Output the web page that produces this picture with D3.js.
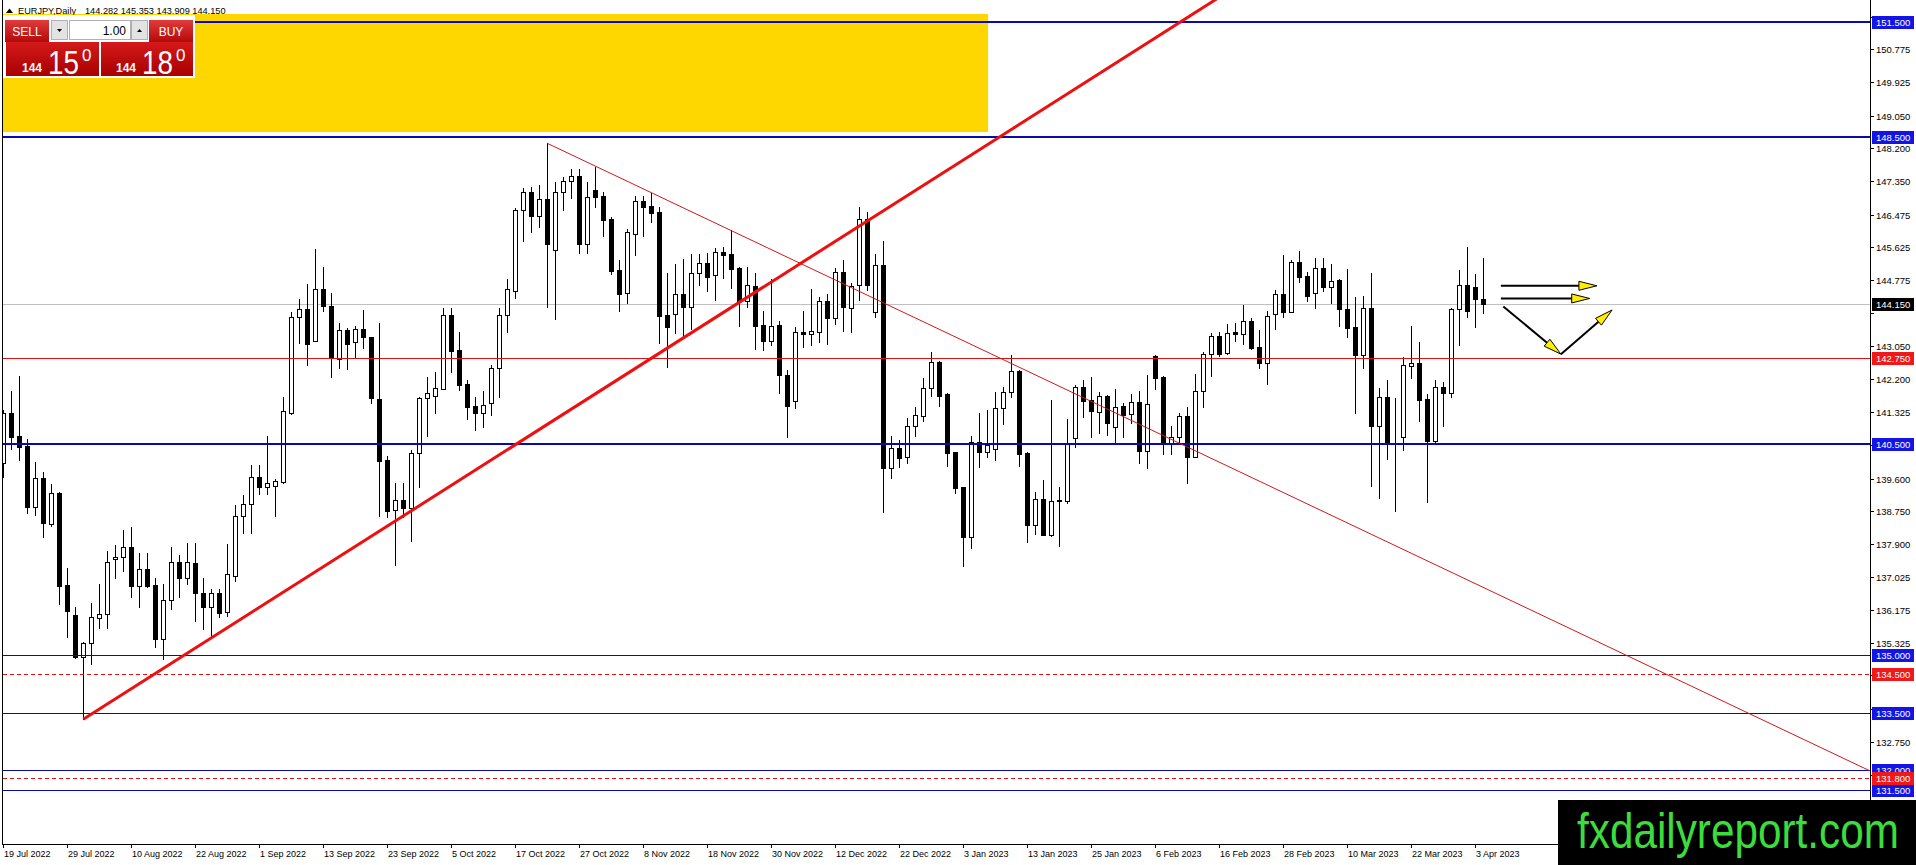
<!DOCTYPE html>
<html><head><meta charset="utf-8">
<script src="https://cdn.jsdelivr.net/npm/d3@7"></script>
<style>html,body{margin:0;padding:0;background:#fff;overflow:hidden}svg{display:block}</style>
</head><body>
<svg id="c" width="1916" height="865"></svg>
<script>
// ---------------- DATA ----------------
const symbol = "EURJPY,Daily";
const lastOHLC = ["144.282", "145.353", "143.909", "144.150"];
const opens = [
140.01,141.30,140.71,140.45,138.87,139.61,138.41,139.22,136.83,136.05,
134.96,135.33,135.98,136.07,137.50,137.55,137.81,136.81,137.24,136.83,
135.41,136.44,137.42,137.00,137.39,136.61,136.26,136.61,136.12,137.07,
138.63,138.93,139.65,139.37,139.41,139.52,141.32,143.80,144.01,143.18,
144.53,144.09,142.71,143.46,143.15,143.49,143.28,141.66,140.08,138.78,
139.04,138.84,140.26,141.69,141.76,141.93,143.86,142.95,142.06,141.49,
141.30,141.56,142.47,143.86,144.48,146.59,147.05,146.44,146.87,145.55,
147.05,147.36,147.49,145.70,147.11,146.96,146.36,145.03,144.42,145.96,
146.84,146.70,146.53,143.86,143.88,144.40,144.08,144.95,145.21,144.90,
145.49,145.44,145.09,144.22,144.61,143.60,143.19,143.60,142.30,141.63,
143.41,143.36,143.42,144.22,143.77,144.97,144.05,144.64,146.36,143.93,
145.16,139.87,140.39,140.17,140.97,141.24,141.95,142.64,141.79,140.28,
139.37,138.09,140.56,140.30,140.36,141.43,141.86,142.40,140.26,138.39,
139.06,138.13,139.02,139.02,140.65,141.98,141.65,141.34,141.75,140.95,
141.49,141.28,141.59,140.33,142.79,142.24,140.50,140.69,141.23,140.17,
141.89,142.84,143.31,142.86,143.41,143.36,143.70,143.03,142.62,143.88,
144.40,143.95,145.23,144.88,144.44,145.08,144.60,144.77,144.01,143.54,
142.82,144.03,140.97,141.72,140.69,140.69,142.54,142.60,141.66,140.58,
141.98,141.84,144.01,144.64,144.58,144.282];
const highs = [
141.39,141.88,142.27,140.62,140.02,139.78,139.45,139.26,137.26,136.26,
135.35,136.35,136.85,137.71,137.87,138.26,138.35,137.65,137.65,137.00,
136.85,137.83,137.61,137.93,137.91,137.00,136.72,136.72,137.90,138.91,
139.17,139.95,139.95,140.71,139.59,141.72,143.95,144.27,144.67,145.58,
145.12,144.42,143.66,143.51,143.57,143.99,143.28,143.66,140.19,139.48,
139.48,140.34,141.73,142.24,142.38,144.03,144.03,143.42,142.17,141.73,
141.89,142.56,144.03,144.79,146.64,147.16,147.20,147.24,148.33,147.33,
147.46,147.65,147.65,147.33,147.72,147.07,146.42,145.29,146.10,146.97,
146.97,147.03,146.68,144.96,145.18,145.31,145.44,145.44,145.48,145.60,
145.64,146.07,145.12,145.12,144.95,143.96,144.80,143.70,142.43,143.55,
143.96,144.53,144.34,144.41,145.08,145.29,144.69,146.66,146.55,145.44,
145.79,140.71,140.60,141.17,141.47,142.21,142.90,142.66,141.82,140.30,
139.39,140.71,141.30,141.39,141.85,141.99,142.82,142.43,140.28,139.26,
139.56,141.65,139.37,141.14,142.04,142.17,142.24,141.85,141.78,141.93,
141.56,141.80,141.89,142.30,142.82,142.27,140.97,141.30,141.47,142.32,
142.90,143.38,143.42,143.62,143.64,144.12,143.77,143.47,143.96,144.51,
145.42,145.29,145.53,144.99,145.34,145.34,145.19,144.79,145.06,144.34,
144.35,144.95,141.95,142.17,141.69,142.77,143.57,143.15,141.79,142.17,
142.11,144.03,145.03,145.64,144.92,145.353];
const lows = [
139.64,140.36,140.08,138.71,138.65,138.07,138.37,136.33,135.48,134.92,
133.33,134.77,135.72,135.72,137.00,137.20,136.52,136.25,136.78,135.21,
134.89,136.20,136.51,136.85,135.89,135.67,135.48,136.00,136.02,136.94,
138.19,138.19,139.19,139.19,138.63,139.48,141.28,143.12,142.56,143.18,
143.96,142.24,142.49,142.45,142.77,142.99,141.56,138.63,138.61,137.35,
138.61,137.98,139.39,140.71,141.32,141.92,142.38,141.91,141.14,140.86,
140.95,141.26,141.72,143.42,144.29,145.79,146.03,146.16,144.06,143.75,
146.59,146.90,145.48,145.48,146.66,145.92,144.93,143.97,144.18,145.42,
145.92,146.27,143.14,142.51,143.40,143.29,143.49,144.64,144.49,144.25,
144.82,144.55,143.57,144.06,142.97,142.95,143.08,141.84,140.69,141.45,
143.03,143.08,143.15,143.10,143.63,143.44,143.42,144.25,144.51,143.82,
138.74,139.61,139.89,140.00,140.72,141.11,141.75,141.49,139.93,139.22,
137.32,137.80,139.91,140.17,140.08,141.02,141.73,139.93,137.96,138.16,
138.13,138.10,137.84,138.96,140.41,141.20,140.69,140.79,140.73,140.50,
140.69,141.05,140.01,139.87,141.92,140.23,140.23,140.52,139.49,140.17,
141.46,142.28,142.79,142.84,143.19,143.10,142.97,142.49,142.06,143.49,
143.82,143.95,144.71,144.23,144.05,144.48,144.18,143.57,143.29,141.32,
142.47,139.41,139.09,140.10,138.76,140.34,142.23,141.11,139.00,140.52,
140.97,141.73,143.08,143.80,143.55,143.909];
const closes = [
141.31,140.69,140.43,138.85,139.61,138.43,139.22,136.81,136.16,134.96,
135.33,135.99,136.07,137.42,137.55,137.81,136.81,137.24,136.80,135.41,
136.44,137.42,137.00,137.42,136.61,136.26,136.61,136.09,137.11,138.63,
138.93,139.65,139.37,139.49,139.54,141.37,143.80,144.01,143.10,144.53,
144.09,142.73,143.46,143.10,143.49,143.28,141.69,140.07,138.76,139.04,
138.84,140.27,141.69,141.82,141.95,143.86,142.93,142.04,141.47,141.32,
141.52,142.47,143.86,144.53,146.59,147.05,146.44,146.87,145.70,147.05,
147.36,147.49,145.70,146.94,146.94,146.33,145.01,144.41,146.01,146.84,
146.68,146.51,143.84,143.55,144.40,144.08,144.95,145.21,144.86,145.49,
145.42,145.05,144.22,144.64,143.58,143.19,143.57,142.30,141.50,143.41,
143.36,143.44,144.22,143.79,144.97,144.08,144.62,146.36,144.64,145.16,
139.87,140.39,140.14,140.97,141.26,141.95,142.64,141.75,140.26,139.36,
138.09,140.56,140.30,140.47,141.43,141.86,142.40,140.23,138.39,139.06,
138.13,139.02,139.04,140.52,141.98,141.63,141.37,141.76,141.05,141.46,
141.26,141.59,140.33,141.53,142.23,140.52,140.69,141.23,140.17,141.89,
142.84,143.32,142.84,143.38,143.36,143.70,143.01,142.62,143.83,144.40,
143.95,145.23,144.86,144.36,145.08,144.60,144.75,144.01,143.53,142.82,
144.03,140.97,141.72,140.56,140.69,142.56,142.60,141.65,140.58,141.98,
141.84,144.01,144.64,143.97,144.28,144.150];

const dateTickLabels = ["19 Jul 2022","29 Jul 2022","10 Aug 2022","22 Aug 2022","1 Sep 2022","13 Sep 2022",
 "23 Sep 2022","5 Oct 2022","17 Oct 2022","27 Oct 2022","8 Nov 2022","18 Nov 2022","30 Nov 2022",
 "12 Dec 2022","22 Dec 2022","3 Jan 2023","13 Jan 2023","25 Jan 2023","6 Feb 2023","16 Feb 2023",
 "28 Feb 2023","10 Mar 2023","22 Mar 2023","3 Apr 2023"];
const barsPerDateLabel = 8;
const priceTicks = [151.625,150.775,149.925,149.050,148.200,147.350,146.475,145.625,144.775,143.900,
 143.050,142.200,141.325,140.475,139.600,138.750,137.900,137.025,136.175,135.325,134.475,133.600,
 132.750,131.875];
const levelsBlueThick = [151.5, 148.5, 140.5];
const levelsBlueThin = [135.0, 133.5, 132.0, 131.5];
const levelsRedSolid = [142.75];
const levelsRedDashed = [134.5, 131.8];
const bidPrice = 144.150;
// trendlines: [barIndex, price]
const trendUp = [[10, 133.33], [150, 151.87]];
const trendDown = [[68, 148.33], [120, 143.19]];
// yellow zone: bars and prices
const zoneBars = [-10, 123.1];
const zonePrices = [148.625, 151.70];
// arrows: [[bar, price], [bar, price]]
const arrows = [
  [[187.2, 144.62], [199.2, 144.62]],
  [[187.2, 144.29], [198.3, 144.29]],
  [[187.5, 144.08], [194.7, 142.84]],
  [[194.7, 142.84], [201.1, 143.99]]
];
const panel = {sell: "SELL", buy: "BUY", lot: "1.00", bidBig: "144", bidMain: "15", bidSup: "0", askBig: "144", askMain: "18", askSup: "0"};
const logoText = "fxdailyreport.com";

// ---------------- CHART ----------------
const W = 1916, H = 865;
const plotL = 3, plotR = 1870, plotB = 844;
const svg = d3.select('#c');
const x = d3.scaleLinear().domain([0, 185]).range([3.3, 1483.3]);
const y = d3.scaleLinear().domain([140.5, 151.5]).range([444, 21.6]);

const defs = svg.append('defs');
defs.append('clipPath').attr('id', 'plotclip').append('rect')
  .attr('x', plotL).attr('y', 0).attr('width', plotR - plotL).attr('height', plotB);
const gradRed = defs.append('linearGradient').attr('id', 'gred').attr('x1', 0).attr('y1', 0).attr('x2', 0).attr('y2', 1);
gradRed.append('stop').attr('offset', '0%').attr('stop-color', '#e23b3b');
gradRed.append('stop').attr('offset', '100%').attr('stop-color', '#b30a0a');
const gradRed2 = defs.append('linearGradient').attr('id', 'gred2').attr('x1', 0).attr('y1', 0).attr('x2', 0).attr('y2', 1);
gradRed2.append('stop').attr('offset', '0%').attr('stop-color', '#d41a1a');
gradRed2.append('stop').attr('offset', '100%').attr('stop-color', '#a80000');

const plot = svg.append('g').attr('clip-path', 'url(#plotclip)');

// yellow zone
plot.append('rect')
  .attr('x', x(zoneBars[0])).attr('y', y(zonePrices[1]))
  .attr('width', x(zoneBars[1]) - x(zoneBars[0]))
  .attr('height', y(zonePrices[0]) - y(zonePrices[1]))
  .attr('fill', '#ffd700');

// bid line
plot.append('line').attr('x1', plotL).attr('x2', plotR)
  .attr('y1', Math.round(y(bidPrice)) + 0.5).attr('y2', Math.round(y(bidPrice)) + 0.5)
  .attr('stroke', '#c0c0c0').attr('stroke-width', 1);

// candles
const bars = d3.range(opens.length).map(i => ({i, o: opens[i], h: highs[i], l: lows[i], c: closes[i]}));
const cg = plot.append('g');
bars.forEach(d => {
  const cx = Math.floor(x(d.i));
  const yh = Math.round(y(d.h)), yl = Math.round(y(d.l));
  const yt = Math.round(y(Math.max(d.o, d.c))), yb = Math.round(y(Math.min(d.o, d.c)));
  cg.append('line').attr('x1', cx + 0.5).attr('x2', cx + 0.5).attr('y1', yh).attr('y2', yl + 1)
    .attr('stroke', '#000').attr('stroke-width', 1);
  if (d.c >= d.o) {
    cg.append('rect').attr('x', cx - 1.5).attr('y', yt + 0.5).attr('width', 4).attr('height', Math.max(yb - yt, 0))
      .attr('fill', '#fff').attr('stroke', '#000').attr('stroke-width', 1);
  } else {
    cg.append('rect').attr('x', cx - 2).attr('y', yt).attr('width', 5).attr('height', Math.max(yb - yt + 1, 1))
      .attr('fill', '#000');
  }
});

// horizontal levels
function hline(p, color, width, dash) {
  const yy = width % 2 === 1 ? Math.round(y(p)) + 0.5 : Math.round(y(p));
  const l = plot.append('line').attr('x1', plotL).attr('x2', plotR).attr('y1', yy).attr('y2', yy)
    .attr('stroke', color).attr('stroke-width', width);
  if (dash) l.attr('stroke-dasharray', dash);
}
levelsRedSolid.forEach(p => hline(p, '#e01010', 1));
levelsRedDashed.forEach(p => hline(p, '#e01010', 1, '4,3'));
levelsBlueThin.forEach(p => hline(p, '#0a0aa8', 1));
levelsBlueThick.forEach(p => hline(p, '#0a0aa8', 2));

// trendlines (extended as rays to the right)
function ray(pts, color, width) {
  const [a, b] = pts;
  const slope = (b[1] - a[1]) / (b[0] - a[0]);
  const endBar = x.invert(plotR + 5);
  const endP = a[1] + slope * (endBar - a[0]);
  plot.append('line')
    .attr('x1', x(a[0])).attr('y1', y(a[1]))
    .attr('x2', x(endBar)).attr('y2', y(endP))
    .attr('stroke', color).attr('stroke-width', width);
}
ray(trendDown, '#d01818', 1);
ray(trendUp, '#ee1010', 3);

// arrows
const ag = plot.append('g');
arrows.forEach(([s, e]) => {
  const x1 = x(s[0]), y1 = y(s[1]), x2 = x(e[0]), y2 = y(e[1]);
  const ang = Math.atan2(y2 - y1, x2 - x1);
  const L = 18, Wd = 4.5;
  const bx = x2 - L * Math.cos(ang), by = y2 - L * Math.sin(ang);
  ag.append('line').attr('x1', x1).attr('y1', y1).attr('x2', bx).attr('y2', by)
    .attr('stroke', '#000').attr('stroke-width', 2);
  const px = -Math.sin(ang) * Wd, py = Math.cos(ang) * Wd;
  ag.append('polygon')
    .attr('points', [[x2, y2], [bx + px, by + py], [bx - px, by - py]].map(p => p.join(',')).join(' '))
    .attr('fill', '#ffee00').attr('stroke', '#000').attr('stroke-width', 1);
});

// frame
svg.append('line').attr('x1', 2.5).attr('x2', 2.5).attr('y1', 0).attr('y2', plotB + 1).attr('stroke', '#000');
svg.append('line').attr('x1', 2).attr('x2', plotR + 1).attr('y1', plotB + 0.5).attr('y2', plotB + 0.5).attr('stroke', '#000');
svg.append('line').attr('x1', plotR + 0.5).attr('x2', plotR + 0.5).attr('y1', 0).attr('y2', 800).attr('stroke', '#000');

// date axis
const tickIdx = dateTickLabels.map((t, i) => i * barsPerDateLabel);
const xa = svg.append('g').attr('font-family', 'Liberation Sans, Arial, sans-serif').attr('font-size', 9);
tickIdx.forEach((b, i) => {
  const tx = Math.floor(x(b)) + 0.5;
  xa.append('line').attr('x1', tx).attr('x2', tx).attr('y1', plotB).attr('y2', plotB + 4).attr('stroke', '#000');
  xa.append('text').attr('x', tx + 0.5).attr('y', 857).attr('fill', '#000').text(dateTickLabels[i]);
});

// price axis (tick labels that would sit under a level's price box are hidden, as on the terminal)
const boxedPrices = levelsBlueThick.concat(levelsBlueThin, levelsRedSolid, levelsRedDashed, [bidPrice]);
const ya = svg.append('g').attr('font-family', 'Liberation Sans, Arial, sans-serif').attr('font-size', 9.5);
priceTicks.forEach(p => {
  const ty = Math.round(y(p)) + 0.5;
  ya.append('line').attr('x1', plotR).attr('x2', plotR + 4).attr('y1', ty).attr('y2', ty).attr('stroke', '#000');
  const covered = boxedPrices.some(b => Math.abs(y(b) - y(p)) < 11);
  if (!covered) ya.append('text').attr('x', 1876).attr('y', ty + 3.5).attr('fill', '#000').text(p.toFixed(3));
});
function priceBox(p, fill) {
  const ty = Math.round(y(p));
  ya.append('rect').attr('x', 1872).attr('y', ty - 6).attr('width', 42).attr('height', 13).attr('fill', fill);
  ya.append('text').attr('x', 1876).attr('y', ty + 4).attr('fill', '#fff').text(p.toFixed(3));
}
levelsBlueThick.concat(levelsBlueThin).forEach(p => priceBox(p, '#1414e6'));
levelsRedSolid.concat(levelsRedDashed).forEach(p => priceBox(p, '#f01818'));
priceBox(bidPrice, '#000');

// header text
const hdr = svg.append('g').attr('font-family', 'Liberation Sans, Arial, sans-serif').attr('font-size', 9.2).attr('fill', '#000');
hdr.append('polygon').attr('points', '6,13 9.5,8.5 13,13').attr('fill', '#000');
hdr.append('text').attr('x', 18).attr('y', 13.5).text(symbol);
hdr.append('text').attr('x', 85).attr('y', 13.5).text(lastOHLC.join(' '));

// trade panel
const tp = svg.append('g').attr('font-family', 'Liberation Sans, Arial, sans-serif');
tp.append('rect').attr('x', 3).attr('y', 15).attr('width', 192).attr('height', 63).attr('fill', '#fff');
tp.append('rect').attr('x', 5).attr('y', 20).attr('width', 44).attr('height', 22).attr('fill', 'url(#gred)');
tp.append('text').attr('x', 27).attr('y', 36).attr('text-anchor', 'middle').attr('fill', '#fff').attr('font-size', 12).text(panel.sell);
tp.append('rect').attr('x', 149).attr('y', 20).attr('width', 44).attr('height', 22).attr('fill', 'url(#gred)');
tp.append('text').attr('x', 171).attr('y', 36).attr('text-anchor', 'middle').attr('fill', '#fff').attr('font-size', 12).text(panel.buy);
tp.append('rect').attr('x', 51.5).attr('y', 20.5).attr('width', 16).attr('height', 19).attr('fill', '#e3e3e3').attr('stroke', '#b0b0b0');
tp.append('polygon').attr('points', '57,29 62,29 59.5,32').attr('fill', '#000');
tp.append('rect').attr('x', 69.5).attr('y', 20.5).attr('width', 61).attr('height', 19).attr('fill', '#fff').attr('stroke', '#b0b0b0');
tp.append('text').attr('x', 126).attr('y', 35).attr('text-anchor', 'end').attr('fill', '#000').attr('font-size', 12).text(panel.lot);
tp.append('rect').attr('x', 131.5).attr('y', 20.5).attr('width', 16).attr('height', 19).attr('fill', '#e3e3e3').attr('stroke', '#b0b0b0');
tp.append('polygon').attr('points', '137,32 142,32 139.5,29').attr('fill', '#000');
tp.append('rect').attr('x', 6).attr('y', 42).attr('width', 93).attr('height', 34).attr('fill', 'url(#gred2)');
tp.append('rect').attr('x', 101).attr('y', 42).attr('width', 92).attr('height', 34).attr('fill', 'url(#gred2)');
function priceTxt(x0, big, main, sup) {
  tp.append('text').attr('x', x0).attr('y', 71.5).attr('fill', '#fff').attr('font-size', 12).attr('font-weight', 'bold').text(big);
  const t = tp.append('text').attr('fill', '#fff').attr('font-size', 33).text(main);
  const len = t.node().getComputedTextLength();
  t.attr('transform', `translate(${x0 + 26},74) scale(${31 / len},1)`);
  tp.append('text').attr('x', x0 + 60).attr('y', 61).attr('fill', '#fff').attr('font-size', 17).text(sup);
}
priceTxt(22, panel.bidBig, panel.bidMain, panel.bidSup);
priceTxt(116, panel.askBig, panel.askMain, panel.askSup);

// logo (scaled horizontally so its natural box fits inside the black plate)
svg.append('rect').attr('x', 1558).attr('y', 800).attr('width', W - 1558).attr('height', H - 800).attr('fill', '#000');
const logo = svg.append('text').attr('x', 0).attr('y', 0)
  .attr('font-family', 'Liberation Sans, Arial, sans-serif').attr('font-size', 50)
  .attr('fill', '#3ddc3d').text(logoText);
const logoLen = logo.node().getComputedTextLength();
logo.attr('transform', `translate(1577,848) scale(${322 / logoLen},1)`);
</script>
</body></html>
